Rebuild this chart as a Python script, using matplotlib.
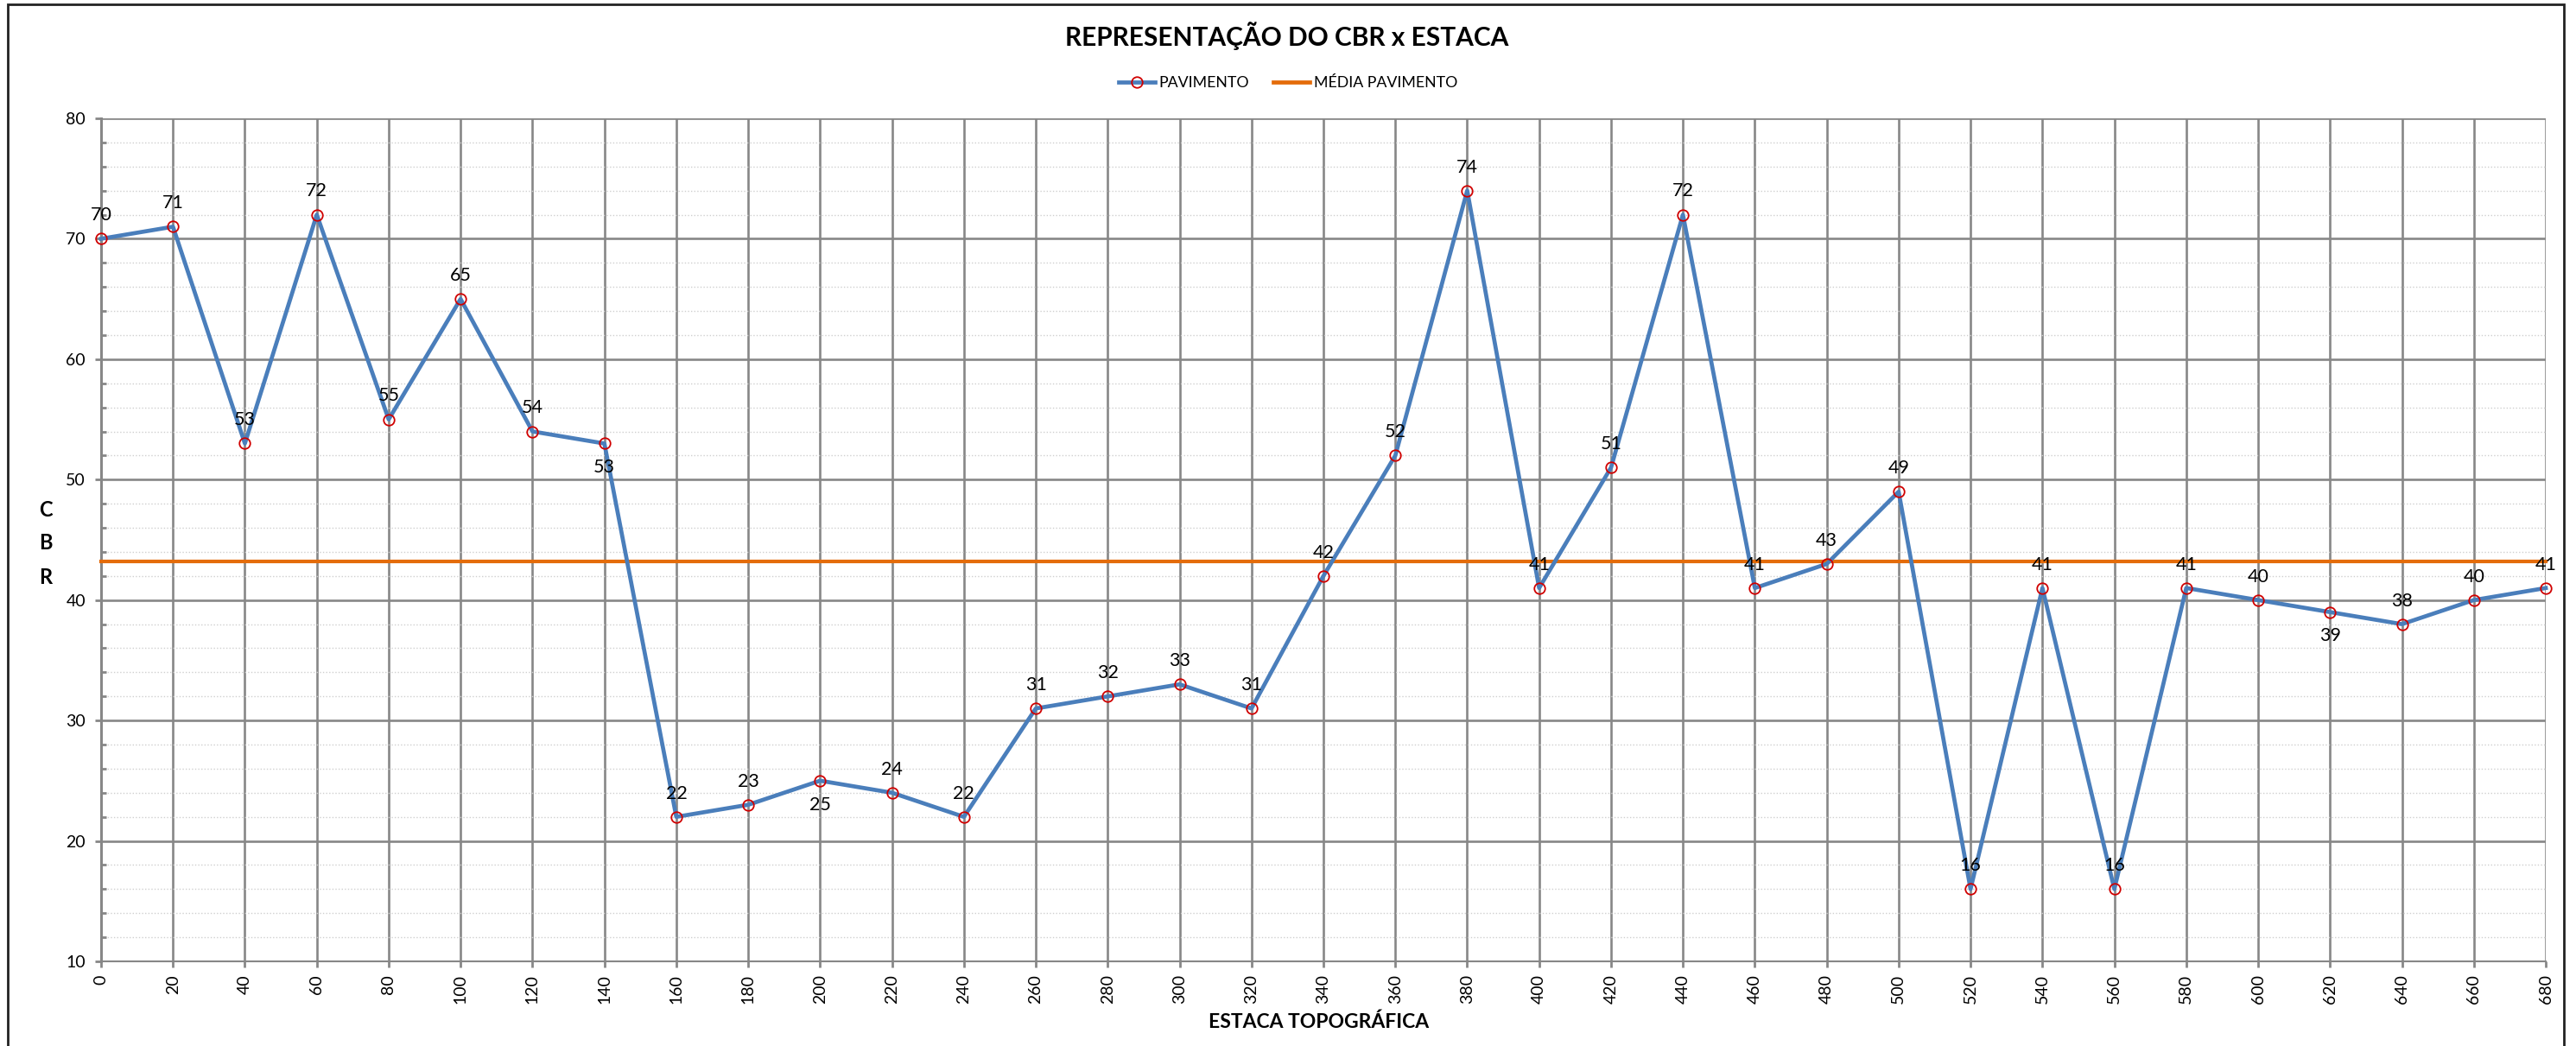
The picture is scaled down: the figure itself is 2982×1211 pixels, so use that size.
import numpy as np
import matplotlib
matplotlib.use("Agg")
import matplotlib.pyplot as plt
from matplotlib.patches import Rectangle
from matplotlib.lines import Line2D
from matplotlib.ticker import MultipleLocator

plt.rcParams['font.family'] = ['Lato', 'DejaVu Sans']

# Estaca topográfica and measured CBR
estacas = [0, 20, 40, 60, 80, 100, 120, 140, 160, 180, 200, 220, 240, 260, 280,
           300, 320, 340, 360, 380, 400, 420, 440, 460, 480, 500, 520, 540, 560,
           580, 600, 620, 640, 660, 680]
cbr = [70, 71, 53, 72, 55, 65, 54, 53, 22, 23, 25, 24, 22, 31, 32,
       33, 31, 42, 52, 74, 41, 51, 72, 41, 43, 49, 16, 41, 16,
       41, 40, 39, 38, 40, 41]
# labels drawn beneath their point instead of above
labels_below = [140, 200, 620]

media = float(np.mean(cbr))

W, H = 2982, 1211
fig = plt.figure(figsize=(W / 100, H / 100), dpi=100)
ax = fig.add_axes([117 / W, 1 - 1113 / H, (2947 - 117) / W, (1113 - 137) / H])

grid_major = '#878787'
grid_minor = '#cfcfcf'
blue = '#4a7ebb'
orange = '#e46c0a'

ax.set_xlim(0, 680)
ax.set_ylim(10, 80)
ax.xaxis.set_major_locator(MultipleLocator(20))
ax.yaxis.set_major_locator(MultipleLocator(10))
ax.yaxis.set_minor_locator(MultipleLocator(2))

ax.grid(which='major', axis='both', color=grid_major, lw=1.9, zorder=0)
ax.grid(which='minor', axis='y', color=grid_minor, lw=1.0, ls=(0, (1, 1.6)), zorder=0)
ax.set_axisbelow(True)

for side in ['top', 'right']:
    ax.spines[side].set_visible(False)
ax.spines['left'].set_color(grid_major)
ax.spines['left'].set_linewidth(2.2)
ax.spines['bottom'].set_color(grid_major)
ax.spines['bottom'].set_linewidth(1.5)

ax.tick_params(axis='y', which='major', direction='out', length=5, width=2, color=grid_major,
               labelsize=14, pad=8)
ax.tick_params(axis='y', which='minor', direction='in', length=4, width=2, color=grid_major)
ax.tick_params(axis='x', which='major', direction='out', length=5, width=2, color=grid_major,
               labelsize=14, labelrotation=90, pad=6)

ax.plot(estacas, cbr, color=blue, lw=3.4, marker='o', ms=9, mfc='none',
        mec='#d00000', mew=1.3, zorder=4, clip_on=False)
ax.plot([estacas[0], estacas[-1]], [media, media], color=orange, lw=3.0, zorder=3,
        clip_on=False)

for x, y in zip(estacas, cbr):
    dy = -20 if x in labels_below else 19.5
    ax.annotate(str(y), (x, y), xytext=(0, dy), textcoords='offset points',
                ha='center', va='center', fontsize=15.5, color='black', zorder=5,
                annotation_clip=False)

fig.text(0.4995, 1 - 42 / H, 'REPRESENTAÇÃO DO CBR x ESTACA', ha='center', va='center',
         fontsize=21.5, fontweight='bold')
fig.text(1527 / W, 1 - 1183 / H, 'ESTACA TOPOGRÁFICA', ha='center',
         va='center', fontsize=16.5, fontweight='bold')
for letter, yy in zip('CBR', [590, 628, 668]):
    fig.text(53 / W, 1 - yy / H, letter, ha='center', va='center', fontsize=17,
             fontweight='bold')

handles = [Line2D([], [], color=blue, lw=3.4, marker='o', ms=9, mfc='none',
                  mec='#d00000', mew=1.3),
           Line2D([], [], color=orange, lw=3.4)]
fig.legend(handles, ['PAVIMENTO', 'MÉDIA PAVIMENTO'], loc='center',
           bbox_to_anchor=(0.5, 1 - 96 / H), ncol=2, frameon=False, fontsize=12.8,
           handlelength=2.35, columnspacing=1.6, handletextpad=0.25)

# chart frame
fig.patches.append(Rectangle((9 / W, -0.02), (2968 - 9) / W, 1.02 - 5 / H,
                             transform=fig.transFigure, fill=False, lw=2.0,
                             edgecolor='#222222'))

fig.savefig('out.png', dpi=100, facecolor='white')
